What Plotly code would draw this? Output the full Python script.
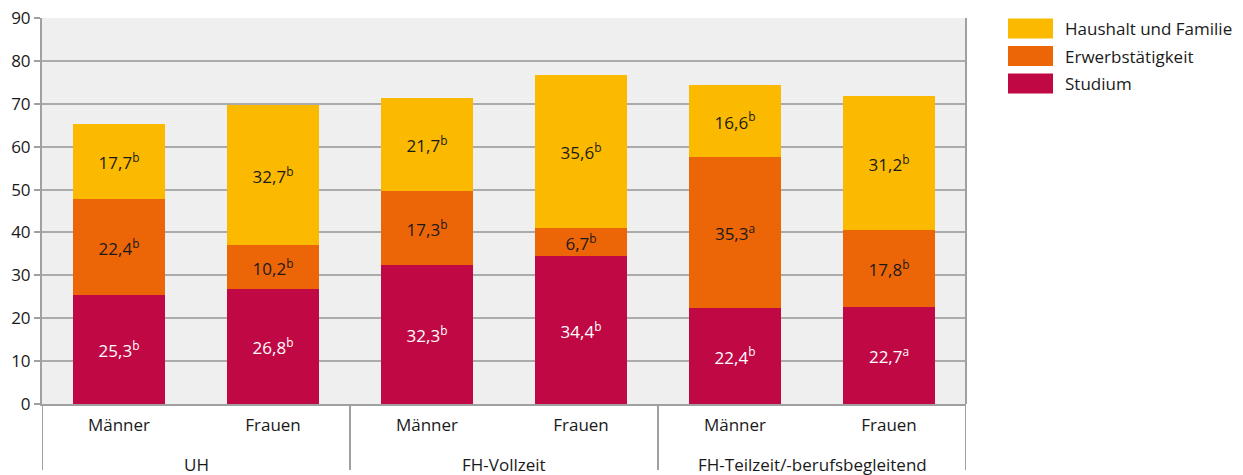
import plotly.graph_objects as go

group_names = ["UH", "FH-Vollzeit", "FH-Teilzeit/-berufsbegleitend"]
genders = ["Männer", "Frauen", "Männer", "Frauen", "Männer", "Frauen"]

studium = [25.3, 26.8, 32.3, 34.4, 22.4, 22.7]
studium_sup = ["b", "b", "b", "b", "b", "a"]
erwerb = [22.4, 10.2, 17.3, 6.7, 35.3, 17.8]
erwerb_sup = ["b", "b", "b", "b", "a", "b"]
haushalt = [17.7, 32.7, 21.7, 35.6, 16.6, 31.2]
haushalt_sup = ["b", "b", "b", "b", "b", "b"]

series = [
    ("Studium", studium, studium_sup, "#C00845", "white"),
    ("Erwerbstätigkeit", erwerb, erwerb_sup, "#EC6608", "#1a1a1a"),
    ("Haushalt und Familie", haushalt, haushalt_sup, "#FBBA00", "#1a1a1a"),
]

FONT = "Open Sans"
FS = 17
GRAY = "#A0A0A0"
xpos = list(range(len(genders)))

def fmt(v, s):
    return f"{v:.1f}".replace(".", ",") + f"<sup>{s}</sup>"

fig = go.Figure()
for name, vals, sups, color, tcolor in series:
    fig.add_trace(go.Bar(
        x=xpos, y=vals, name=name, width=0.6,
        marker=dict(color=color, line=dict(width=0)),
        text=[fmt(v, s) for v, s in zip(vals, sups)],
        textposition="inside", insidetextanchor="middle",
        textangle=0, constraintext="none",
        textfont=dict(family=FONT, size=FS, color=tcolor),
        hoverinfo="skip", showlegend=False,
    ))

fig.update_layout(
    barmode="stack",
    width=1243, height=475,
    margin=dict(l=42, r=277, t=18, b=71),
    plot_bgcolor="#EFEFEF", paper_bgcolor="white",
    font=dict(family=FONT, size=FS, color="#1a1a1a"),
)
fig.update_yaxes(
    range=[0, 90], dtick=10, showgrid=True, gridcolor="#ABABAB", gridwidth=1.5,
    showline=True, linecolor=GRAY, linewidth=2,
    ticks="outside", ticklen=6, tickcolor=GRAY, tickwidth=1.5,
    zeroline=False, tickfont=dict(size=FS), automargin=False,
)
fig.update_xaxes(
    range=[-0.5, 5.5], tickvals=xpos, ticktext=genders,
    showline=True, linecolor=GRAY, linewidth=2, showgrid=False, zeroline=False,
    ticks="", tickfont=dict(size=FS), automargin=False, ticklabelstandoff=5,
)
# right border line
fig.add_shape(type="line", xref="paper", yref="paper", x0=1, x1=1, y0=0, y1=1,
              line=dict(color=GRAY, width=2))
# group dividers below axis
for xd in [-0.5, 1.5, 3.5, 5.5]:
    fig.add_shape(type="line", xref="x", yref="paper", x0=xd, x1=xd,
                  y0=0, y1=-66 / 386, line=dict(color=GRAY, width=2))
# group labels
for i, g in enumerate(group_names):
    fig.add_annotation(xref="x", yref="paper", x=2 * i + 0.5, y=-60 / 386,
                       text=g, showarrow=False, yanchor="middle",
                       font=dict(family=FONT, size=FS, color="#1a1a1a"))

# legend (manual, large swatches)
leg = [("Haushalt und Familie", "#FBBA00"), ("Erwerbstätigkeit", "#EC6608"), ("Studium", "#C00845")]
for i, (name, color) in enumerate(leg):
    yc = 28.5 + i * 27.5
    fig.add_shape(type="rect", xref="paper", yref="paper",
                  x0=(1008 - 42) / 924, x1=(1053 - 42) / 924,
                  y0=(404 - (yc + 10)) / 386, y1=(404 - (yc - 10)) / 386,
                  line=dict(width=0), fillcolor=color)
    fig.add_annotation(xref="paper", yref="paper", x=(1063 - 42) / 924, y=(404 - yc) / 386,
                       text=name, showarrow=False, xanchor="left", yanchor="middle",
                       font=dict(family=FONT, size=FS, color="#1a1a1a"))

fig.write_html("out.html", config={"displayModeBar": False},
               post_script="document.body.style.margin='0px';document.body.style.overflow='hidden';")
